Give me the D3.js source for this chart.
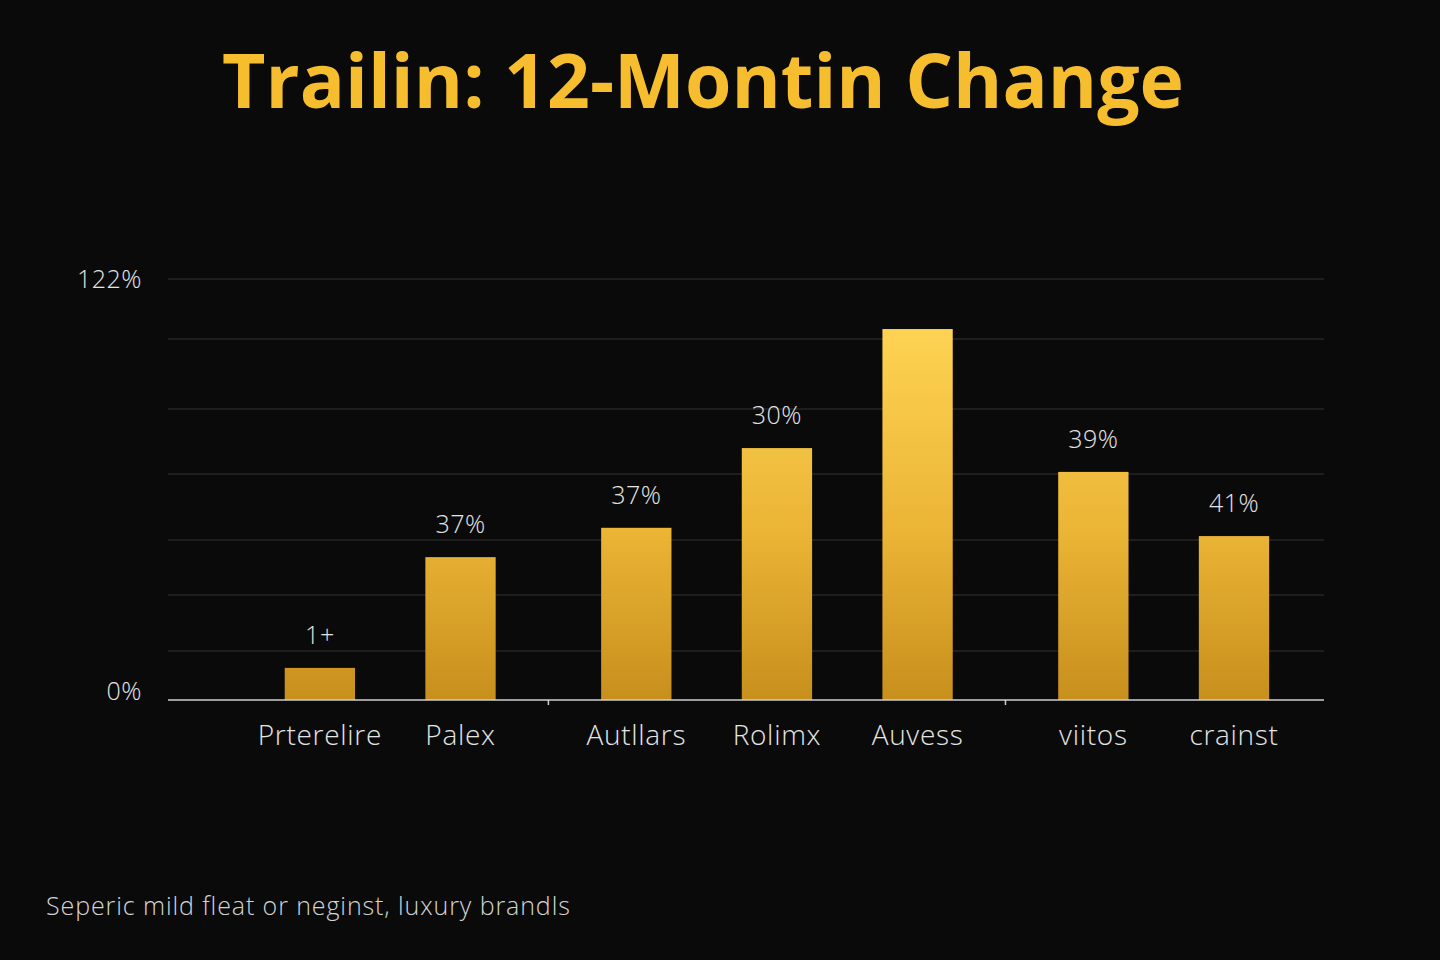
<!DOCTYPE html>
<html lang="en">
<head>
<meta charset="utf-8">
<title>Trailin: 12-Montin Change</title>
<script src="https://cdn.jsdelivr.net/npm/d3@7"></script>
<style>
  html, body { margin: 0; padding: 0; background: #0a0a0a; }
  svg { display: block; }
  .title { font-family: "Open Sans", sans-serif; font-weight: 700; fill: #f6bd2f; }
  .lbl { font-family: "Open Sans", sans-serif; font-weight: 300; fill: #e4e4e4; }
</style>
</head>
<body>
<script>
// chart data
var categories = ["Prterelire", "Palex", "Autllars", "Rolimx", "Auvess", "viitos", "crainst"];
var values = [9.3, 41.4, 49.9, 73.0, 107.5, 66.1, 47.5];
var valueLabels = ["1+", "37%", "37%", "30%", "", "39%", "41%"];
var groups = [0, 0, 1, 1, 1, 2, 2];
var gridValues = [14.2, 30.4, 46.4, 65.5, 84.3, 104.6, 122];
var yTickValues = [0, 122];

var W = 1440, H = 960;
var margin = {top: 279, right: 116, bottom: 260, left: 168};
var width = W - margin.left - margin.right;
var height = H - margin.top - margin.bottom;

var svg = d3.select("body").append("svg")
  .attr("width", W)
  .attr("height", H);

svg.append("rect").attr("width", W).attr("height", H).attr("fill", "#0a0a0a");

// gradient shared by bars (bright at top, darker at the base), in plot units
var grad = svg.append("defs").append("linearGradient")
  .attr("id", "gold")
  .attr("gradientUnits", "userSpaceOnUse")
  .attr("x1", 0).attr("x2", 0)
  .attr("y1", 40).attr("y2", height);
grad.append("stop").attr("offset", "0%").attr("stop-color", "#ffd454");
grad.append("stop").attr("offset", "55%").attr("stop-color", "#ebb536");
grad.append("stop").attr("offset", "100%").attr("stop-color", "#c78f1c");

var g = svg.append("g")
  .attr("transform", "translate(" + margin.left + "," + margin.top + ")");

// slot position: bar index plus a little extra gap between groups
var groupGap = 0.25;
function slot(i) { return i + groups[i] * groupGap; }
var lastSlot = slot(categories.length - 1);

var x = d3.scaleLinear()
  .domain([-1.08, lastSlot + 0.64])
  .range([0, width]);
var step = x(1) - x(0);
var barW = step * 0.5;

var y = d3.scaleLinear().domain([0, 122]).range([height, 0]);

// grid
g.selectAll(".grid")
  .data(gridValues).enter()
  .append("line")
  .attr("x1", 0).attr("x2", width)
  .attr("y1", function(d) { return y(d); })
  .attr("y2", function(d) { return y(d); })
  .attr("stroke", "#262626")
  .attr("stroke-width", 1.5);

// bars
g.selectAll(".bar")
  .data(values).enter()
  .append("rect")
  .attr("class", "bar")
  .attr("x", function(d, i) { return x(slot(i)) - barW / 2; })
  .attr("width", barW)
  .attr("y", function(d) { return y(d); })
  .attr("height", function(d) { return height - y(d); })
  .attr("fill", "url(#gold)");

// value labels
g.selectAll(".val")
  .data(values).enter()
  .append("text")
  .attr("class", "lbl")
  .attr("x", function(d, i) { return x(slot(i)); })
  .attr("y", function(d) { return y(d) - 24; })
  .attr("text-anchor", "middle")
  .style("font-size", "25px")
  .style("letter-spacing", "0.5px")
  .text(function(d, i) { return valueLabels[i]; });

// baseline
g.append("line")
  .attr("x1", 0).attr("x2", width)
  .attr("y1", height).attr("y2", height)
  .attr("stroke", "#cfcfcf")
  .attr("stroke-width", 1.5);

// small ticks at group breaks
var breaks = [];
for (var i = 1; i < categories.length; i++) {
  if (groups[i] !== groups[i - 1]) breaks.push((slot(i) + slot(i - 1)) / 2);
}
g.selectAll(".brk")
  .data(breaks).enter()
  .append("line")
  .attr("x1", function(d) { return x(d); })
  .attr("x2", function(d) { return x(d); })
  .attr("y1", height).attr("y2", height + 5)
  .attr("stroke", "#cfcfcf")
  .attr("stroke-width", 1.5);

// category labels
g.selectAll(".cat")
  .data(categories).enter()
  .append("text")
  .attr("class", "lbl")
  .attr("x", function(d, i) { return x(slot(i)); })
  .attr("y", height + 45)
  .attr("text-anchor", "middle")
  .style("font-size", "28px")
  .style("letter-spacing", "0.7px")
  .text(function(d) { return d; });

// y labels
g.selectAll(".ylbl")
  .data(yTickValues).enter()
  .append("text")
  .attr("class", "lbl")
  .attr("x", -26)
  .attr("y", function(d) { return d === 0 ? y(d) : y(d) + 9; })
  .attr("text-anchor", "end")
  .style("font-size", "25px")
  .style("letter-spacing", "0.5px")
  .text(function(d) { return d + "%"; });

// title
var title = svg.append("text")
  .attr("class", "title")
  .attr("x", 703)
  .attr("y", 108)
  .attr("text-anchor", "middle")
  .style("font-size", "66px")
  .text("Trailin: 12-Montin Change");
var tw = title.node().getComputedTextLength();
title.style("font-size", (66 * 962 / tw) + "px");

// footnote
svg.append("text")
  .attr("class", "lbl")
  .attr("x", 46)
  .attr("y", 915)
  .style("font-size", "25px")
  .style("letter-spacing", "0.9px")
  .style("fill", "#d4d4d4")
  .text("Seperic mild fleat or neginst, luxury brandls");
</script>
</body>
</html>
